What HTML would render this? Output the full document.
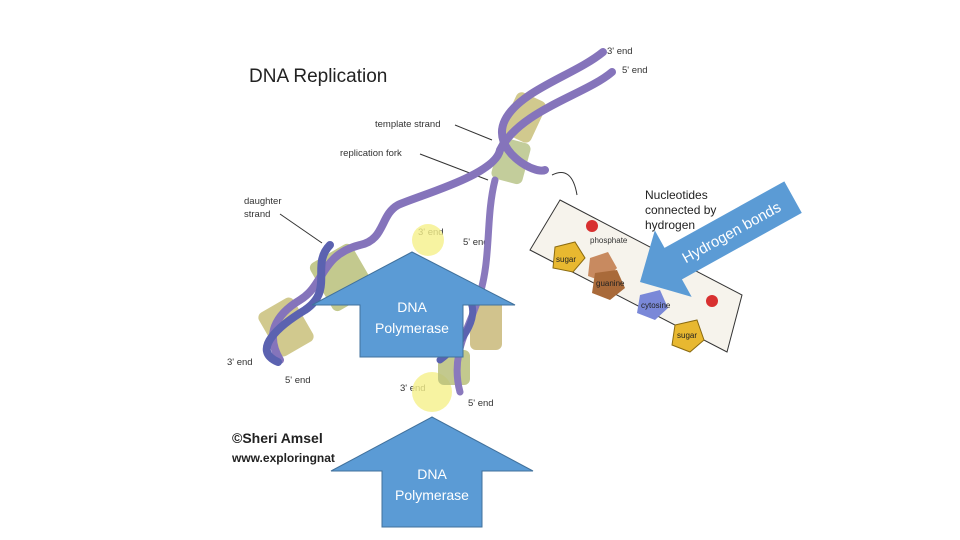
<!DOCTYPE html>
<html><head><meta charset="utf-8"><style>
html,body{margin:0;padding:0;background:#fff}
svg{display:block}
text{font-family:"Liberation Sans",sans-serif}
</style></head><body>
<svg width="960" height="540" viewBox="0 0 960 540" xmlns="http://www.w3.org/2000/svg">
<rect width="960" height="540" fill="#fff"/>
<text x="249" y="82" font-size="19" fill="#222">DNA Replication</text>
<g font-size="9.5" fill="#333">
<text x="375" y="127">template strand</text>
<text x="340" y="156">replication fork</text>
<text x="244" y="204">daughter</text><text x="244" y="217">strand</text>
<text x="607" y="54">3' end</text><text x="622" y="73">5' end</text>
<text x="418" y="235">3' end</text><text x="463" y="245">5' end</text>
<text x="227" y="365">3' end</text><text x="285" y="383">5' end</text>
<text x="400" y="391">3' end</text><text x="468" y="406">5' end</text>
</g>
<g stroke="#333" stroke-width="1" fill="none">
<line x1="455" y1="125" x2="492" y2="140"/><line x1="420" y1="154" x2="488" y2="180"/>
<line x1="280" y1="214" x2="322" y2="243"/>
<path d="M552 175 q20 -10 25 20"/>
</g>
<circle cx="428" cy="240" r="16" fill="#f5f08a" opacity="0.8"/>
<circle cx="432" cy="392" r="20" fill="#f5f08a" opacity="0.8"/>
<!-- base blocks -->
<g opacity="0.85">
<rect x="508" y="95" width="32" height="45" rx="6" fill="#c9c07a" transform="rotate(25 524 117)"/>
<rect x="495" y="140" width="32" height="42" rx="6" fill="#b9c48a" transform="rotate(15 511 161)"/>
<rect x="318" y="250" width="48" height="55" rx="6" fill="#b9c07a" transform="rotate(-30 342 277)"/>
<rect x="266" y="302" width="40" height="50" rx="6" fill="#c9c07a" transform="rotate(-30 286 327)"/>
<rect x="470" y="300" width="32" height="50" rx="6" fill="#c9b979"/>
<rect x="438" y="350" width="32" height="35" rx="6" fill="#b9c07a"/>
</g>
<!-- helix ribbons -->
<g fill="none" stroke-linecap="round">
<path d="M603 52 C575 75 520 90 505 120 C490 150 535 175 545 170" stroke="#8574bb" stroke-width="8"/>
<path d="M612 72 C585 95 520 110 500 150 C495 175 420 195 398 205 C380 215 385 240 360 245 C320 255 325 285 300 300 C275 315 265 335 280 360" stroke="#8574bb" stroke-width="8"/>
<path d="M495 180 C485 220 492 260 478 300 C468 330 450 355 460 392" stroke="#8a79bd" stroke-width="7"/>
<path d="M330 245 C310 265 335 290 305 310 C280 325 250 350 278 362" stroke="#5b62b0" stroke-width="8"/>
<path d="M470 300 C480 320 460 345 440 360" stroke="#5b62b0" stroke-width="7"/>
</g>
<text x="232" y="443" font-size="14" font-weight="bold" fill="#222">©Sheri Amsel</text>
<text x="232" y="462" font-size="12" font-weight="bold" fill="#222">www.exploringnat</text>
<!-- nucleotide box -->
<polygon points="560,200 742,295 727,352 530,250" fill="#f6f3ec" stroke="#333" stroke-width="1"/>
<text x="645" y="199" font-size="12" fill="#222">Nucleotides</text>
<text x="645" y="214" font-size="12" fill="#222">connected by</text>
<text x="645" y="229" font-size="12" fill="#222">hydrogen</text>
<circle cx="592" cy="226" r="6" fill="#d83030"/>
<text x="590" y="243" font-size="8" fill="#333">phosphate</text>
<polygon points="555,247 575,242 585,258 573,272 553,268" fill="#e8b830" stroke="#8a6a10"/>
<polygon points="590,258 608,252 617,268 604,282 588,276" fill="#c88a60"/>
<polygon points="595,273 617,270 625,288 610,300 592,293" fill="#a96a3a"/>
<text x="596" y="286" font-size="8" fill="#222">guanine</text>
<polygon points="640,295 660,290 668,308 655,320 637,313" fill="#7a88d8"/>
<text x="641" y="308" font-size="8" fill="#222">cytosine</text>
<circle cx="712" cy="301" r="6" fill="#d83030"/>
<polygon points="675,325 697,320 704,340 690,352 672,345" fill="#e8b830" stroke="#8a6a10"/>
<text x="556" y="262" font-size="8" fill="#222">sugar</text><text x="677" y="338" font-size="8" fill="#222">sugar</text>
<!-- hydrogen bonds arrow -->
<g transform="translate(640,282) rotate(-29)">
<polygon points="0,0 38,-38 38,-18 175,-18 175,18 38,18 38,38" fill="#5b9bd5"/>
<text x="104" y="6" font-size="15" fill="#fff" text-anchor="middle" font-family="Liberation Serif,serif">Hydrogen bonds</text>
</g>
<!-- DNA polymerase arrows -->
<polygon points="412,252 515,305 463,305 463,357 360,357 360,305 312,305" fill="#5b9bd5" stroke="#41719c" stroke-width="1"/>
<text x="412" y="312" font-size="14" fill="#fff" text-anchor="middle">DNA</text>
<text x="412" y="333" font-size="14" fill="#fff" text-anchor="middle">Polymerase</text>
<polygon points="432,417 533,471 482,471 482,527 382,527 382,471 331,471" fill="#5b9bd5" stroke="#41719c" stroke-width="1"/>
<text x="432" y="479" font-size="14" fill="#fff" text-anchor="middle">DNA</text>
<text x="432" y="500" font-size="14" fill="#fff" text-anchor="middle">Polymerase</text>
</svg>
</body></html>
